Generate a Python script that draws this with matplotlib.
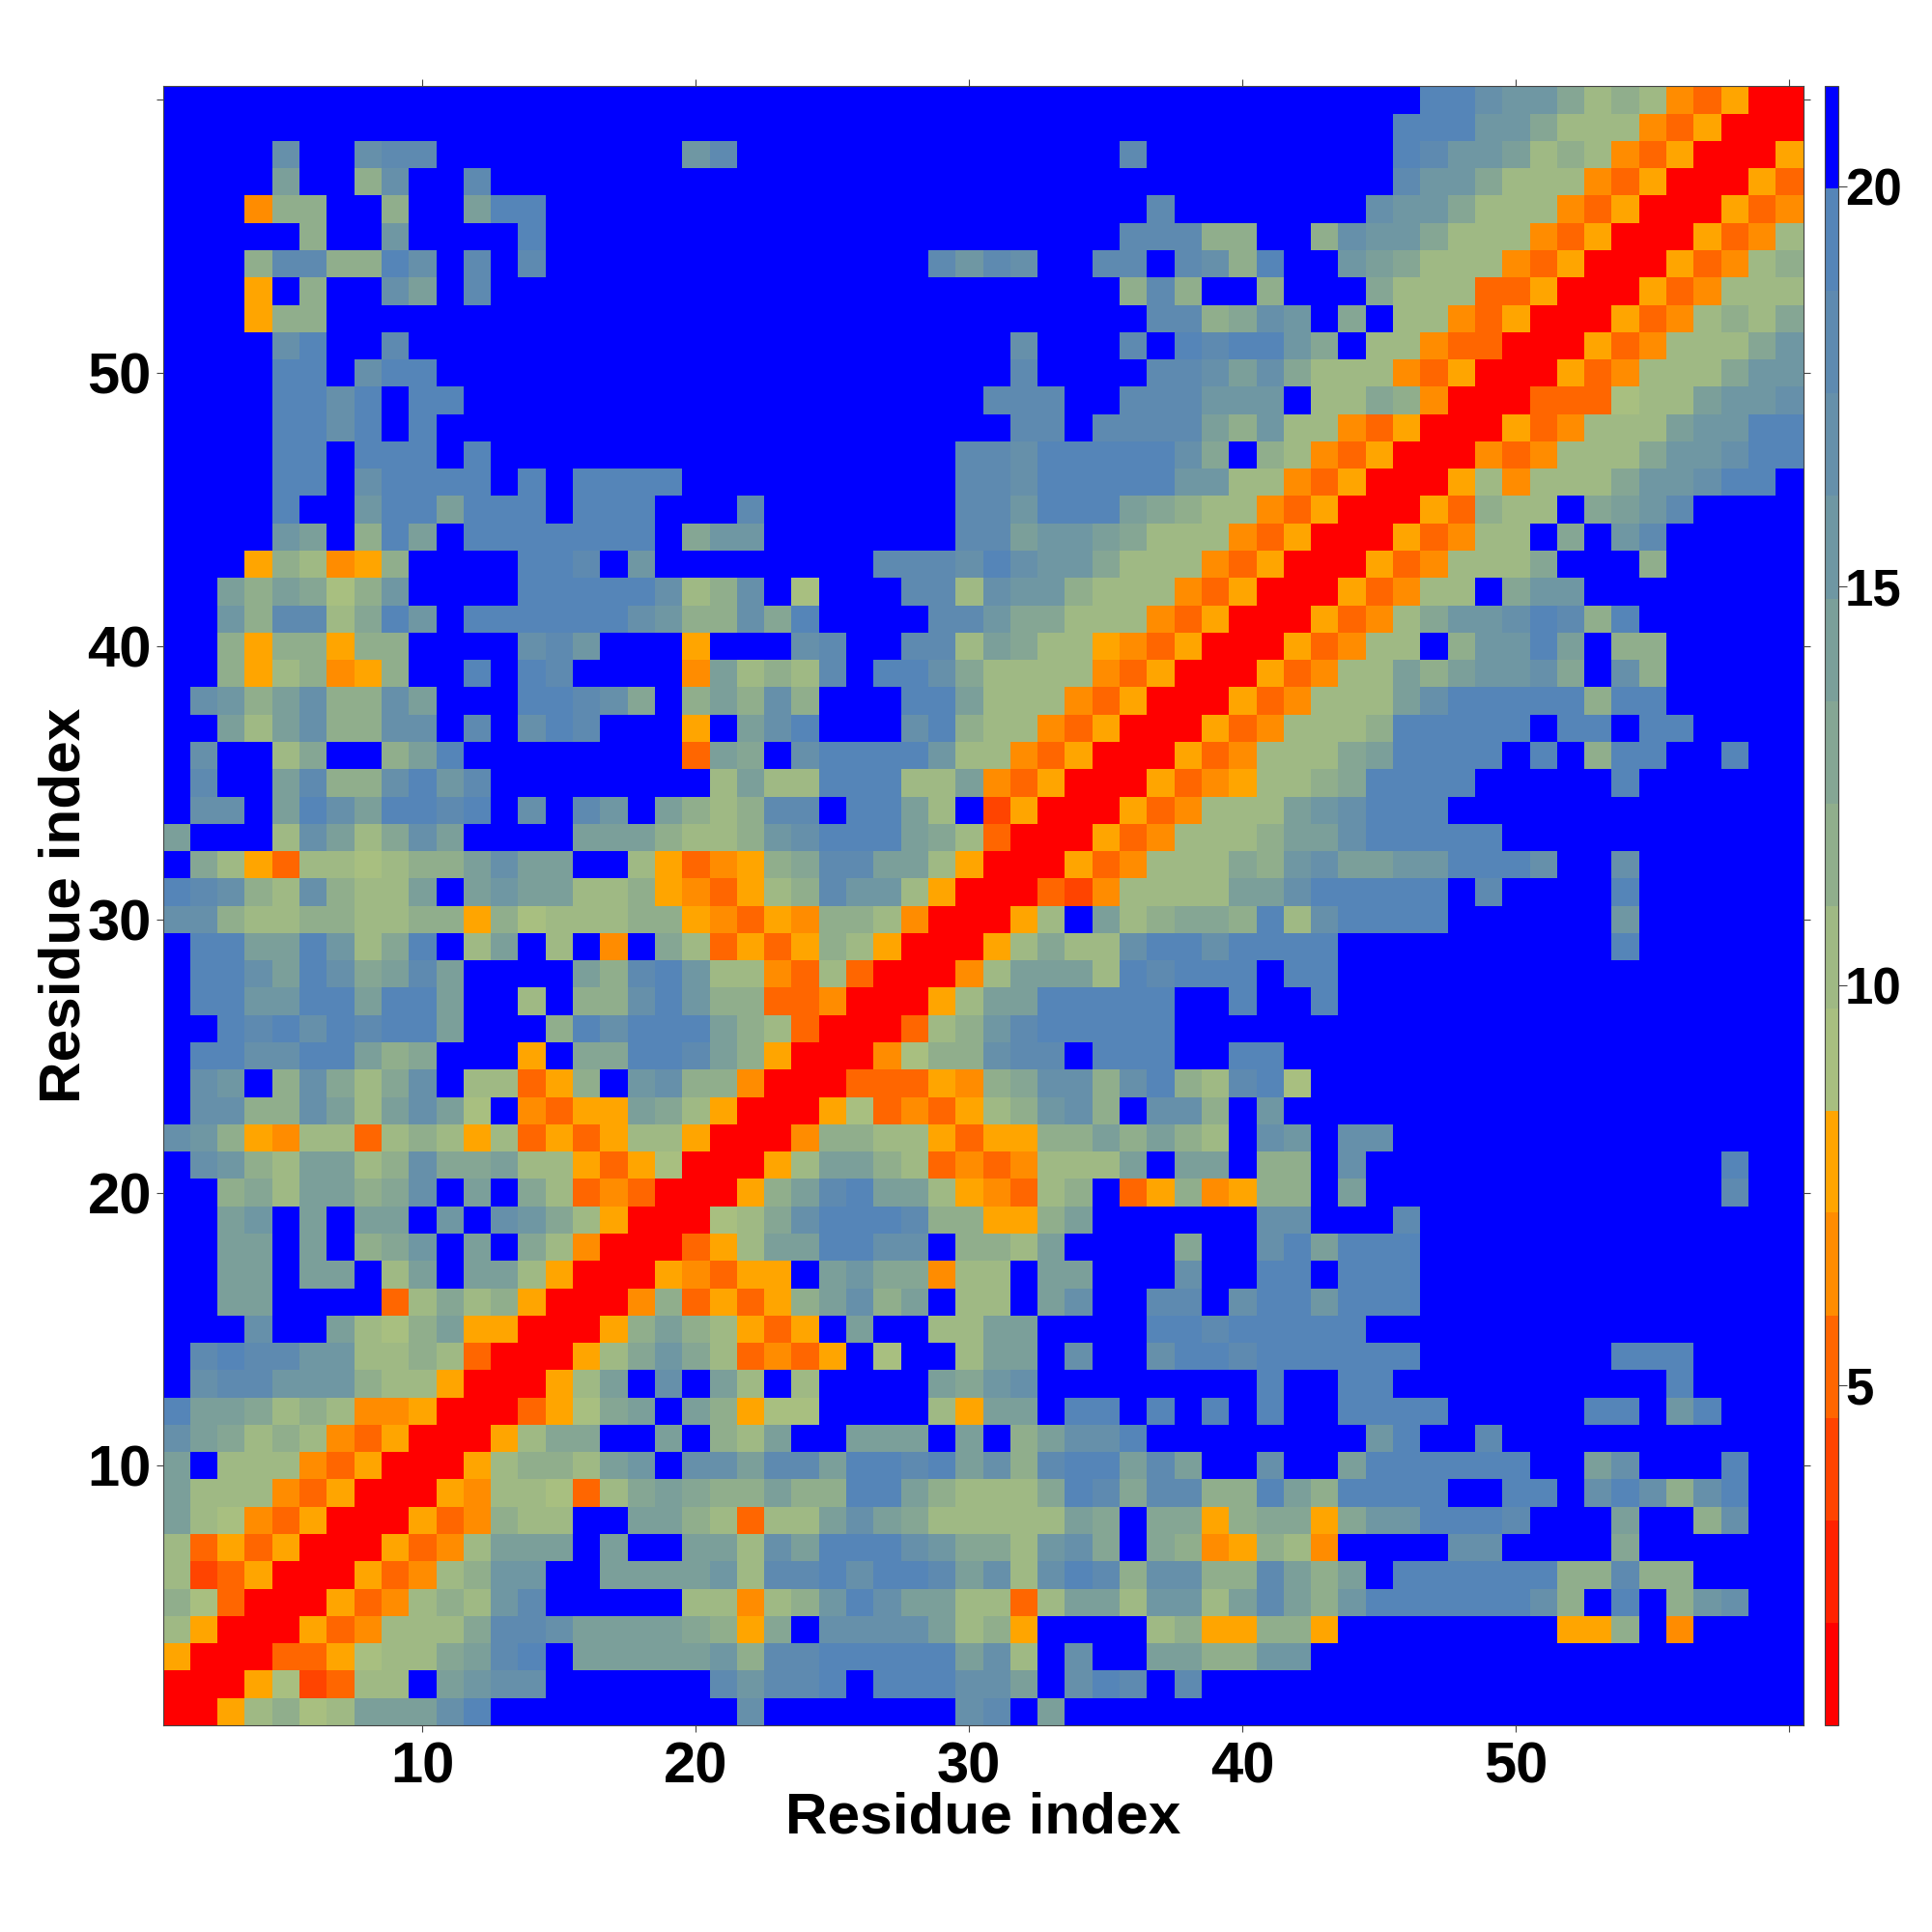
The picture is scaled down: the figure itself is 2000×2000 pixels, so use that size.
import numpy as np
import matplotlib
matplotlib.use("Agg")
import matplotlib.pyplot as plt
from matplotlib.colors import ListedColormap, BoundaryNorm

plt.rcParams["font.family"] = ["Liberation Sans", "DejaVu Sans"]
plt.rcParams["font.weight"] = "bold"

# Distance class per cell. Row 60 first, row 1 last.
# 0-e are the colour bands from red upwards, "." is the top (blue) band.
band_rows = [
    "........................................" + "......eecb" + "b978743500",
    "........................................" + ".....eeebb" + "9777435000",
    "....c..cdd" + ".........b" + "d........." + ".....d...." + ".....edbba" + "7874350005",
    "....a..8c." + ".d........" + ".........." + ".........." + ".....dbb97" + "7743500053",
    "...488..8." + ".aee......" + ".........." + "......d..." + "....cbb977" + "7435000534",
    ".....8..b." + "...e......" + ".........." + ".....ddd88" + "..8cbb9777" + "4350005347",
    "...8dd88ec" + ".d.d......" + "........db" + "dc..dd.dc8" + "e..ba97774" + "3500053478",
    "...5.8..ca" + ".d........" + ".........." + ".....8d8.." + "8...977733" + "5000534777",
    "...588...." + ".........." + ".........." + "......dd89" + "cb.9.77435" + "0005347879",
    "....ce..d." + ".........." + ".........." + ".c...d.ede" + "eb9.774330" + "005347779b",
    "....ee.cee" + ".........." + ".........." + ".d....ddca" + "c977743500" + "05347779bb",
    "....eece.e" + "e........." + ".........." + "ddd..dddbb" + "b.77984000" + "333677abbc",
    "....eece.e" + ".........." + ".........." + ".dd.dddda8" + "b774350005" + "34777abbee",
    "....ee.eee" + ".e........" + ".........d" + "dceeeeec9." + "8743500043" + "47779bbcee",
    "....ee.cee" + "ee.e.eeee." + ".........d" + "dceeeeebb7" + "7435000574" + "7779bbcee.",
    "....e..bee" + "aeee.eee.." + ".d.......d" + "dbeeea9877" + "4350005387" + "7.9abd....",
    "....ba.8ea" + ".eeeeeee.9" + "bb.......d" + "dabba97774" + "3500053477" + ".9.bd.....",
    "...587458." + "...eed.b.." + "......dddc" + "ecbb977743" + "5000534777" + "9...8.....",
    "..a8a968b." + "...eeeeec7" + "8c.6...dd7" + "cbb8777435" + "00053477.9" + "bb........",
    "..b8dd79eb" + ".eeeeeecb8" + "8c9e....dd" + "b997774350" + "0053479bbc" + "ed8e......",
    "..8588588." + "...cdb...5" + "...cd..dd7" + "a977543500" + "053477.8bb" + "ea.88.....",
    "..8578458." + ".e.ed....4" + "a787d.eec9" + "7777435000" + "53477a8abb" + "c9.c8.....",
    ".cb8ac88ca" + "...eedc9.8" + "a8c8...eea" + "7774350005" + "34777aceee" + "ee8ee.....",
    "..a7ac88cc" + ".d.ced...5" + ".ace...ce8" + "7743500053" + "47778eeeee" + ".ee.ee....",
    ".c..79..8a" + "e........3" + "a9.ceeeeb7" + "7435000534" + "7779aeeee." + "e.8ee..e..",
    ".d..ad88ce" + "bd........" + "7a77eee77a" + "4350005345" + "7789eeee.." + "...e......",
    ".cc.aecaee" + "de.c.db.a8" + "78dd.eea7." + "2500053477" + "7abceee..." + "..........",
    "a...7ca79c" + "a....aaa87" + "78bceeea97" + "3000534777" + "8aaceeeee." + "..........",
    ".975377678" + "8acaa..753" + "4589ddaa75" + "0005347779" + "8bcaabbeee" + "c..c......",
    "edc87c877a" + ".abaa77854" + "3578dbb750" + "003247777a" + "aceeeee.d." + "...e......",
    "cc87788778" + "8586777885" + "4354887400" + "057.a78998" + "e7ceeee..." + "...b......",
    ".eeaaeb79e" + ".7a.7.4.97" + "3535875000" + "57977ceece" + "eee......." + "...e......",
    ".eecaec9ad" + "a....a8deb" + "7743730004" + "7aaa7edeee" + ".ee......." + "..........",
    ".eebbeeaee" + "a..7.88ceb" + "8833400057" + "aaeeeee..e" + "..e......." + "..........",
    "..edecedee" + "a...8eceee" + "a873000378" + "bdeeeee..." + ".........." + "..........",
    ".eecceea89" + "...5.99eed" + "a850004688" + "cdd.eee..e" + "e........." + "..........",
    ".cb.8c979c" + ".77358.bc8" + "8400033354" + "89cc8ce87d" + "e6........" + "..........",
    ".cc88ca7ac" + "a6.4355a97" + "5000563435" + "78bc8.cc8." + "b........." + "..........",
    "cb85477378" + "7573535775" + "0004887753" + "5588a8a87." + "cb.cc....." + "..........",
    ".cb87aa78c" + "99a7753560" + "0057aa8734" + "34777a.aa." + "88.c......" + ".......e..",
    "..897aa89c" + ".a.9734300" + "058adeaa75" + "4378.35845" + "88.a......" + ".......d..",
    "..ab.a.aa." + "b.cb975000" + "679ceeed88" + "558a......" + "cc...d...." + "..........",
    "..aa.a.89b" + ".a.9740003" + "57aaeecc.8" + "87a....9.." + "ceaeee...." + "..........",
    "..aa.aa.7a" + ".aa7500054" + "355.ab9947" + "7.aa...c.." + "ee.eee...." + "..........",
    "..aa....37" + "9785000483" + "5358ac8a.7" + "7.ac..dd.c" + "eebeee...." + "..........",
    "...c..a768" + "a5500058a8" + "7535.a..77" + "aa....eede" + "eeee......" + "..........",
    ".deddbb778" + "73000579b9" + "73435.6..7" + "aa.c..ceed" + "eeeeee...." + "...eee....",
    ".cddbbb877" + "500057a.c." + "a7.7....a9" + "bc........" + "e..ee....." + ".....e....",
    "eaa9787445" + "0003569a.a" + "8566....75" + "aa.ee.e.e." + "e..eeee..." + "..ee.be...",
    "ca97874350" + "005799..a." + "87a..aaa.a" + ".8acce...." + "....be..d." + "..........",
    "a.77743500" + "057887ab.c" + "caddaeedea" + "c8deeada.." + "c..aeeeeee" + "..ac...e..",
    "a777435000" + "54776379a9" + "88a88eea87" + "779ed9dd88" + "ea8eeee..e" + "e.cec8ce..",
    "a764350005" + "34877..aa8" + "7377aca977" + "777a9.9958" + "9959bbeeed" + "...a..8c..",
    "7353500053" + "47aaa.a..a" + "a7caeeecb9" + "97bc9.9845" + "874....cc." + "...9......",
    "7235000534" + "78bb..aaaa" + "b7ddeceeda" + "c7ced8cc88" + "da8a.eeeee" + "e88d88....",
    "8630005347" + "87bd.....7" + "7478becaa7" + "737aa7bb7a" + "da8beeeeee" + "c8.e.8bc..",
    "7500053477" + "79ddcaaaa9" + "859.cccca7" + "85....7855" + "885......." + ".558.4....",
    "5000335677" + "9ade.aaaaa" + "b8ddeeeeea" + "c7.c..aa88" + "bb........" + "..........",
    "000562377." + "abcc......" + "dbdde.eeec" + "ca.ced.d.." + ".........." + "..........",
    "0057867aaa" + "ce........" + ".c.......c" + "d.a......." + ".........." + "..........",
]

band_colors = ["#ff0000", "#ff2200", "#ff4400", "#ff6600", "#ff8c00", "#ffa500",
               "#a8bf80", "#9fb984", "#90ae8c", "#85a694", "#7b9f9a", "#6f97a3",
               "#6690aa", "#5e8ab0", "#5585b8", "#0000ff"]
band_edges = [0.75, 2.03, 3.31, 4.59, 5.87, 7.16, 8.44, 9.72, 11.0,
              12.28, 13.56, 14.84, 16.13, 17.41, 18.69, 19.97, 21.25]
band_keys = "0123456789abcde."

tick_values = [10, 20, 30, 40, 50, 60]
tick_labels = ["10", "20", "30", "40", "50", ""]
cbar_ticks = [5, 10, 15, 20]

# Band number to a distance in the middle of that band
band_idx = np.array([[band_keys.index(c) for c in row] for row in band_rows])
edges = np.array(band_edges)
dist = (edges[band_idx] + edges[band_idx + 1]) / 2
dist = dist[::-1]  # row 1 at the bottom

cmap = ListedColormap(band_colors)
norm = BoundaryNorm(band_edges, cmap.N)
res = np.arange(1, 61)

fig = plt.figure(figsize=(20, 20), dpi=100)
ax = fig.add_axes([168.5 / 2000, 1 - 1786.0 / 2000, 1698 / 2000, 1696.7 / 2000])
mesh = ax.pcolormesh(res, res, dist, cmap=cmap, norm=norm, shading="nearest")
ax.set_xlim(0.5, 60.5)
ax.set_ylim(0.5, 60.5)

ax.set_xticks(tick_values)
ax.set_xticklabels(tick_labels, fontsize=43, fontweight="bold")
ax.set_yticks(tick_values)
ax.set_yticklabels(tick_labels, fontsize=43, fontweight="bold")
ax.tick_params(axis="both", which="major", direction="out", length=5, width=0.8,
               color="#444444", top=True, right=True)
ax.tick_params(axis="x", pad=7)
ax.tick_params(axis="y", pad=3.3)
for spine in ax.spines.values():
    spine.set_linewidth(0.8)
    spine.set_color("#444444")

ax.set_xlabel("Residue index", fontsize=43.5, fontweight="bold", labelpad=-2.6)
ax.set_ylabel("Residue index", fontsize=43.5, fontweight="bold", labelpad=-2.7)

cax = fig.add_axes([1889 / 2000, 1 - 1786.0 / 2000, 14 / 2000, 1696.7 / 2000])
cbar = fig.colorbar(mesh, cax=cax, spacing="proportional")
cbar.set_ticks(cbar_ticks)
cbar.set_ticklabels([str(t) for t in cbar_ticks], fontsize=38, fontweight="bold")
cbar.ax.tick_params(which="major", length=6.5, width=0.8, color="#444444", pad=-1.5)
cbar.ax.minorticks_off()
cbar.outline.set_linewidth(0.8)
cbar.outline.set_edgecolor("#444444")

fig.savefig("out.png", dpi=100)
plt.close(fig)
